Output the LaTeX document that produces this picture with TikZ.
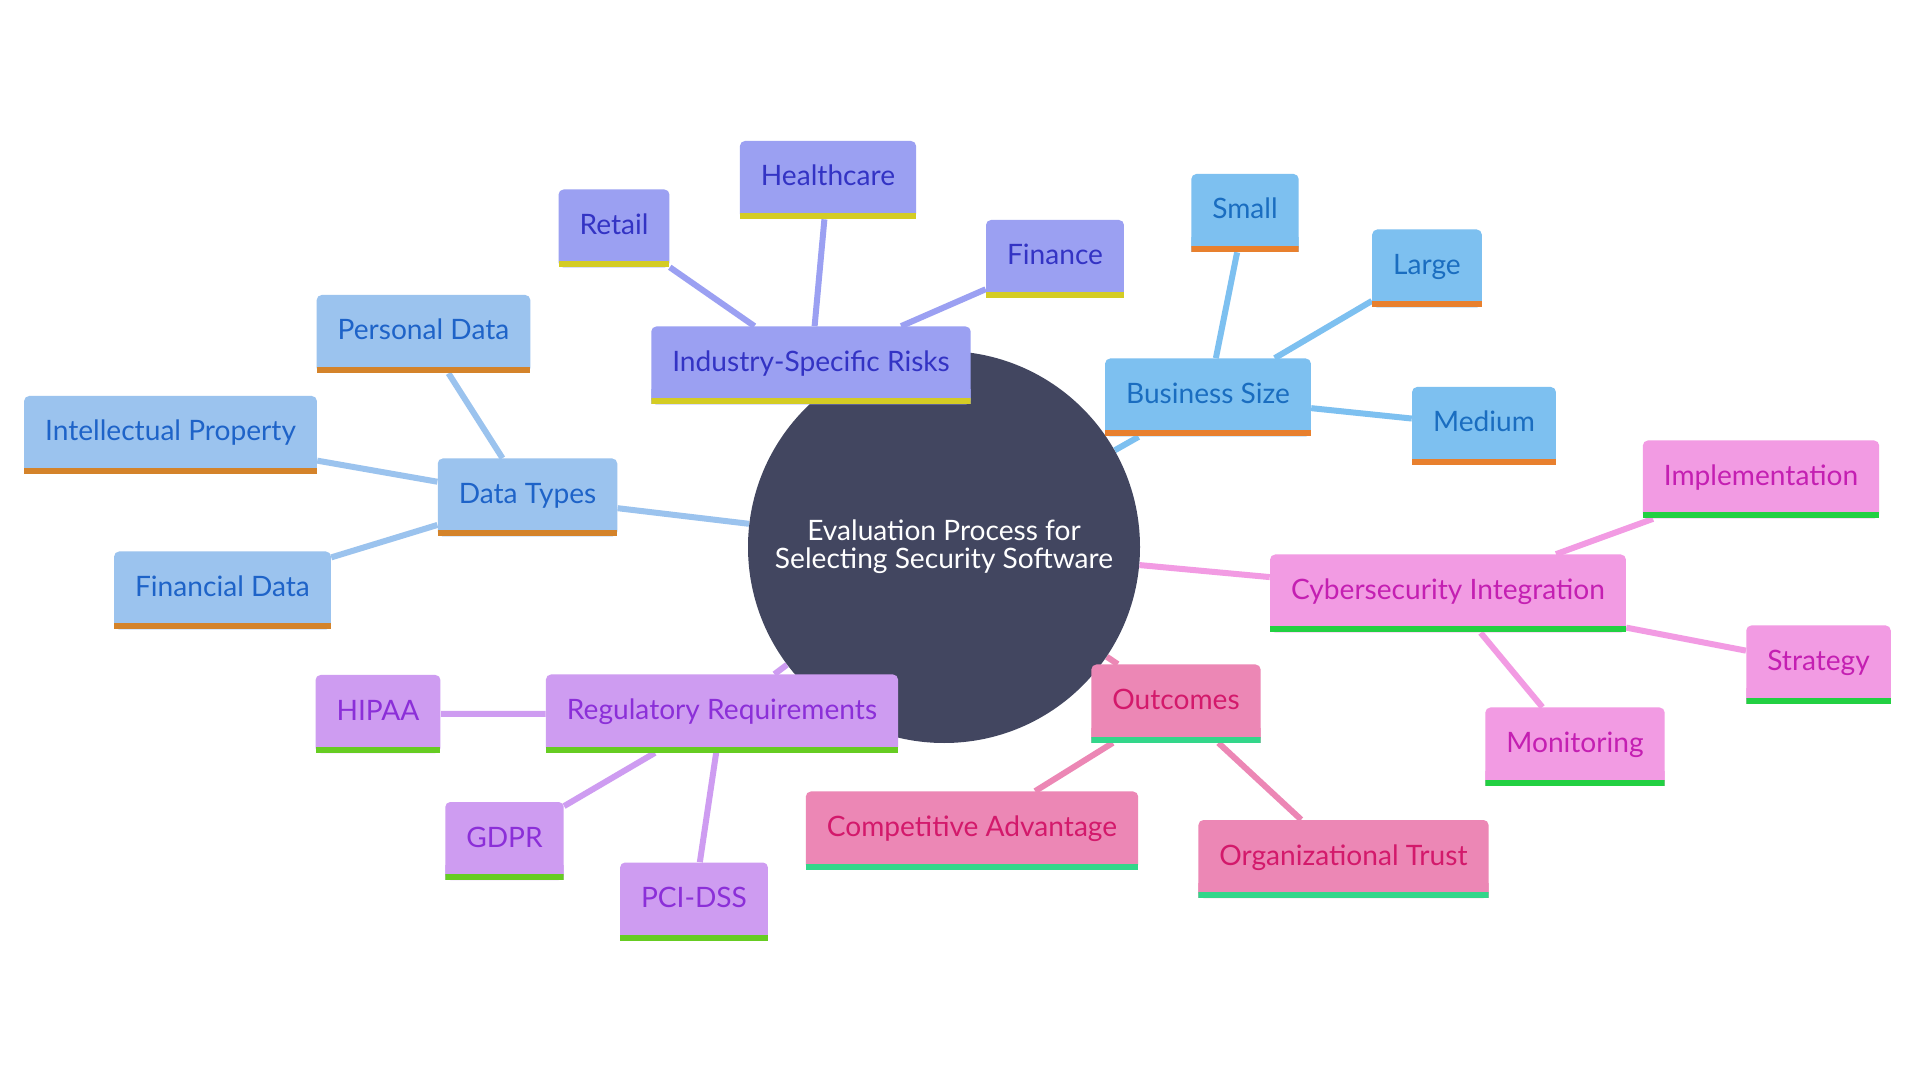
\documentclass[tikz,border=0pt]{standalone}
\usepackage{fontspec}
\setmainfont{Lato}
\usetikzlibrary{positioning}
\definecolor{hub}{HTML}{424660}
\definecolor{indfill}{HTML}{9BA0F2}
\definecolor{indtext}{HTML}{3333C4}
\definecolor{indbar}{HTML}{D4CC24}
\definecolor{sizefill}{HTML}{7DC0F0}
\definecolor{sizetext}{HTML}{1A6DC0}
\definecolor{sizebar}{HTML}{E8802E}
\definecolor{datafill}{HTML}{9BC3EE}
\definecolor{datatext}{HTML}{1E63C8}
\definecolor{databar}{HTML}{D4832A}
\definecolor{regfill}{HTML}{CE9CF1}
\definecolor{regtext}{HTML}{8B2FD8}
\definecolor{regbar}{HTML}{66CC22}
\definecolor{outfill}{HTML}{EC87B5}
\definecolor{outtext}{HTML}{D3196B}
\definecolor{outbar}{HTML}{33D68A}
\definecolor{cybfill}{HTML}{F29BE3}
\definecolor{cybtext}{HTML}{C41FB2}
\definecolor{cybbar}{HTML}{22D042}
\pgfdeclarelayer{background}
\pgfsetlayers{background,main}
% box with rounded top and a coloured bar at the bottom
\newcommand{\mmfill}[2]{%
  \fill[#1, rounded corners=1mm] (path picture bounding box.south west) rectangle (path picture bounding box.north east);
  \fill[#1] (path picture bounding box.south west) rectangle ([yshift=3mm]path picture bounding box.south east);
  \fill[#2] (path picture bounding box.south west) rectangle ([yshift=1.2mm]path picture bounding box.south east);}
\tikzset{
  leaf/.style={minimum height=15.6mm, inner xsep=4.2mm, inner ysep=0pt, text height=4.5mm, text depth=2.1mm},
  industry/.style={leaf, text=indtext, path picture={\mmfill{indfill}{indbar}}},
  bizsize/.style={leaf, text=sizetext, path picture={\mmfill{sizefill}{sizebar}}},
  datatype/.style={leaf, text=datatext, path picture={\mmfill{datafill}{databar}}},
  regulation/.style={leaf, text=regtext, path picture={\mmfill{regfill}{regbar}}},
  outcome/.style={leaf, text=outtext, path picture={\mmfill{outfill}{outbar}}},
  cyber/.style={leaf, text=cybtext, path picture={\mmfill{cybfill}{cybbar}}},
}

\begin{document}
\begin{tikzpicture}[
  x=0.2mm, y=-0.2mm,
  every node/.style={font=\fontsize{16}{19}\selectfont},
  link/.style={line width=1.2mm},
]

\useasboundingbox (0,0) rectangle (1920,1080);

% Centre
\node[circle, fill=hub, minimum size=78.4mm, text=white, align=center,
  font=\fontsize{16}{16}\selectfont] (hub) at (944,547)
  {Evaluation Process for\\Selecting Security Software};

% Industry-Specific Risks
\node[industry] (ind) at (811,365.5) {Industry-Specific Risks};
\node[industry] (retail) at (614,228.5) {Retail};
\node[industry] (health) at (828,180) {Healthcare};
\node[industry] (finance) at (1055,259) {Finance};

% Business Size
\node[bizsize] (size) at (1208,397.5) {Business Size};
\node[bizsize] (small) at (1245,213) {Small};
\node[bizsize] (large) at (1427,268.5) {Large};
\node[bizsize] (medium) at (1484,426) {Medium};

% Data Types
\node[datatype] (data) at (527.5,497.5) {Data Types};
\node[datatype] (personal) at (423.5,334) {Personal Data};
\node[datatype] (ip) at (170.5,435) {Intellectual Property};
\node[datatype] (findata) at (222.5,590.5) {Financial Data};

% Regulatory Requirements
\node[regulation] (reg) at (722,713.5) {Regulatory Requirements};
\node[regulation] (hipaa) at (378,714) {HIPAA};
\node[regulation] (gdpr) at (504.5,841) {GDPR};
\node[regulation] (pci) at (694,901.5) {PCI-DSS};

% Outcomes
\node[outcome] (out) at (1176,703.5) {Outcomes};
\node[outcome] (compet) at (972,830.5) {Competitive Advantage};
\node[outcome] (trust) at (1343.5,859) {Organizational Trust};

% Cybersecurity Integration
\node[cyber] (cyb) at (1448,593.5) {Cybersecurity Integration};
\node[cyber] (impl) at (1761,479.5) {Implementation};
\node[cyber] (strat) at (1818.5,664.5) {Strategy};
\node[cyber] (monit) at (1575,746.5) {Monitoring};

% Links
\begin{pgfonlayer}{background}
  \fill[white] (0,0) rectangle (1920,1080);
  \draw[link, indfill] (hub) -- (ind);
  \foreach \n in {retail, health, finance}
    \draw[link, indfill] (ind) -- (\n);
  \draw[link, sizefill] (hub) -- (size);
  \foreach \n in {small, large, medium}
    \draw[link, sizefill] (size) -- (\n);
  \draw[link, datafill] (hub) -- (data);
  \foreach \n in {personal, ip, findata}
    \draw[link, datafill] (data) -- (\n);
  \draw[link, regfill] (hub) -- (reg);
  \foreach \n in {hipaa, gdpr, pci}
    \draw[link, regfill] (reg) -- (\n);
  \draw[link, outfill] (hub) -- (out);
  \foreach \n in {compet, trust}
    \draw[link, outfill] (out) -- (\n);
  \draw[link, cybfill] (hub) -- (cyb);
  \foreach \n in {impl, strat, monit}
    \draw[link, cybfill] (cyb) -- (\n);
\end{pgfonlayer}

\end{tikzpicture}
\end{document}
